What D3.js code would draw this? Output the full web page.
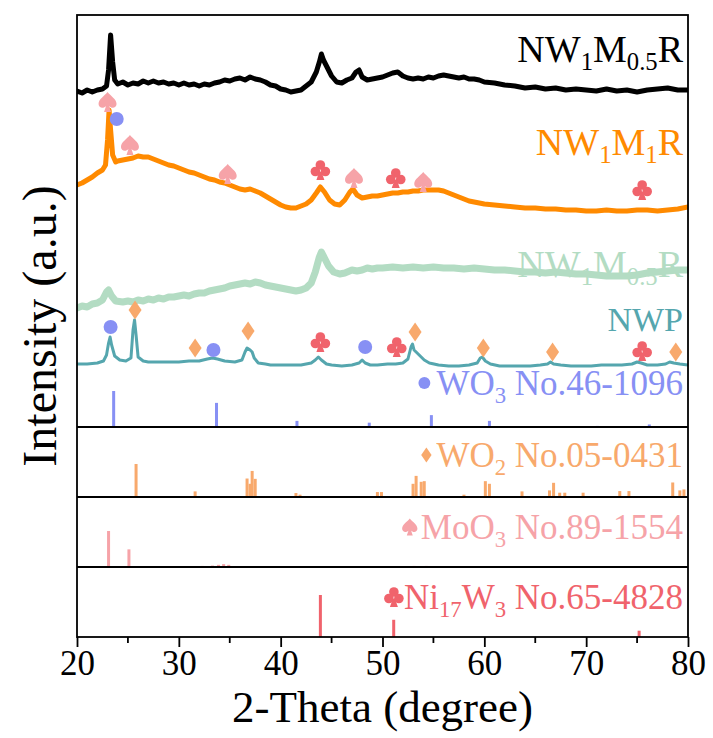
<!DOCTYPE html>
<html>
<head>
<meta charset="utf-8">
<script src="https://cdn.jsdelivr.net/npm/d3@7"></script>
<style>
  html, body { margin: 0; padding: 0; background: #fff; }
  svg { display: block; }
</style>
</head>
<body>
<svg id="chart" width="713" height="738"></svg>
<script>
// ---------- X axis ----------
const xTicks = [20, 30, 40, 50, 60, 70, 80];
const xMinorTicks = [25, 35, 45, 55, 65, 75];

// ---------- Measured patterns: [2-theta (deg), stacked intensity (a.u.)] ----------
const nw1m05rTop = [
  [20,336],[20.5,334],[21,337],[21.5,335],[22,337],[22.5,338],[22.9,341],[23.1,357],[23.3,392],[23.5,365],
  [23.7,347],[24,343],[24.5,345],[25,342],[25.5,344],[26,343],[26.5,346],[27,344],[27.5,346],[28,344],
  [28.5,345],[29,343],[29.5,344],[30,342],[30.5,344],[31,342],[31.5,343],[32,341],[32.5,343],[33,342],
  [33.5,344],[34,345],[34.5,347],[35,346],[35.5,348],[36,349],[36.5,347],[37,350],[37.5,348],[38,347],
  [38.5,345],[39,342],[39.5,341],[40,338],[40.5,337],[41,335],[41.5,336],[42,337],[42.5,341],[43,345],
  [43.5,355],[43.8,365],[44.0,373],[44.2,367],[44.5,361],[45,351],[45.5,345],[46,344],[46.5,347],[47,349],
  [47.4,355],[47.7,357],[48,350],[48.5,347],[49,348],[49.5,349],[50,350],[50.5,352],[51,354],[51.5,355],
  [52,351],[52.5,349],[53,348],[53.5,349],[54,348],[54.5,350],[55,349],[55.5,351],[56,352],[56.5,351],
  [57,350],[57.5,349],[58,350],[58.5,348],[59,348],[59.5,347],[60,345],[61,344],[62,342],[63,341],
  [64,339],[65,340],[66,338],[67,339],[68,337],[69,338],[70,337],[71,336],[72,338],[73,336],
  [74,337],[75,335],[76,337],[77,338],[78,339],[79,337],[80,337]
];
const nw1m1r = [
  [20,242],[20.5,244],[21,247],[21.5,250],[22,254],[22.5,257],[22.8,262],[23.0,287],[23.15,317],[23.3,297],
  [23.5,272],[23.8,265],[24,266],[24.5,267],[25,268],[25.5,269],[26,271],[26.5,270],[27,270],[27.5,268],
  [28,266],[28.5,264],[29,262],[29.5,261],[30,259],[30.5,257],[31,255],[31.5,254],[32,252],[32.5,250],
  [33,248],[33.5,247],[34,245],[34.5,244],[35,242],[35.5,240],[36,238],[36.5,237],[37,238],[37.5,236],
  [38,234],[38.5,231],[39,228],[39.5,225],[40,222],[40.5,220],[41,219],[41.5,219],[42,221],[42.5,223],
  [43,227],[43.5,234],[43.9,240],[44.3,235],[44.8,227],[45.3,223],[45.8,222],[46.3,227],[46.8,235],[47.1,238],
  [47.5,232],[48,229],[48.5,230],[49,231],[49.5,231],[50,232],[50.5,233],[51,234],[51.5,234],[52,235],
  [52.5,235],[53,236],[53.5,236],[54,237],[54.5,237],[55,237],[55.5,237],[56,236],[56.5,234],[57,232],
  [57.5,230],[58,228],[58.5,226],[59,225],[59.5,224],[60,223],[61,222],[62,221],[63,220],[64,219],
  [65,219],[66,218],[67,218],[68,217],[69,217],[70,216],[71,216],[72,217],[73,216],[74,216],
  [75,217],[76,217],[77,216],[78,217],[79,218],[80,220]
];
const nw1m05rLow = [
  [20,119],[20.5,121],[21,120],[21.5,123],[22,124],[22.5,127],[22.9,135],[23.1,137],[23.4,131],[23.8,126],
  [24.5,125],[25,126],[25.5,125],[26,127],[26.5,126],[27,128],[27.5,127],[28,129],[28.5,128],[29,130],
  [29.5,130],[30,131],[30.5,132],[31,131],[31.5,133],[32,134],[32.5,134],[33,136],[33.5,137],[34,138],
  [34.5,139],[35,141],[35.5,142],[36,143],[36.5,144],[37,143],[37.5,145],[38,144],[38.5,142],[39,141],
  [39.5,140],[40,139],[40.5,138],[41,137],[41.5,136],[42,137],[42.5,139],[43,144],[43.4,155],[43.8,170],
  [44.0,175],[44.3,169],[44.7,161],[45.2,155],[45.8,153],[46.3,154],[47,157],[47.5,156],[48,157],[48.5,159],
  [49,158],[49.5,159],[50,159],[51,160],[52,159],[53,160],[54,159],[55,160],[56,159],[57,159],
  [58,158],[59,159],[60,158],[61,157],[62,157],[63,156],[64,155],[65,155],[66,154],[67,155],
  [68,154],[69,153],[70,153],[71,152],[72,151],[73,151],[74,151],[75,152],[76,154],[77,155],
  [78,156],[79,157],[80,157]
];
const nwp = [
  [20,63],[21,63],[22,64],[22.6,66],[22.9,72],[23.1,84],[23.25,90],[23.4,82],[23.7,71],[24.2,67],
  [24.8,66],[25.3,69],[25.5,97],[25.65,107],[25.8,92],[26.0,70],[26.5,66],[27,65],[28,65],[29,65],
  [30,65],[31,66],[32,66],[32.8,68],[33.3,69],[33.8,68],[34.5,66],[35.5,65],[36.2,67],[36.5,75],
  [36.7,79],[37.0,77],[37.2,75],[37.4,69],[37.8,64],[38.5,63],[39,62],[40,62],[41,62],[42,62],
  [43,64],[43.4,67],[43.7,70],[44.0,67],[44.5,63],[45,62],[46,61],[47,62],[47.7,64],[48.0,67],
  [48.3,64],[48.8,62],[49.5,62],[50.5,63],[51.3,63],[52.0,64],[52.5,68],[52.8,80],[52.95,83],[53.1,77],
  [53.4,74],[53.7,71],[54.1,67],[54.6,64],[55.5,62],[56.5,61],[57.5,61],[58.5,62],[59.3,64],[59.6,69],
  [59.8,70],[60.1,66],[60.6,63],[61.5,61],[62.5,61],[63.5,61],[64.5,61],[65.5,62],[66.2,63],[66.5,65],
  [66.8,63],[67.5,62],[68.5,61],[69.5,61],[70.5,61],[71.5,62],[72.5,62],[73.5,62],[74.5,63],[75.0,65],
  [75.4,64],[76,62],[77,62],[77.8,63],[78.2,65],[78.6,64],[79.2,63],[80,62]
];

// ---------- Phase markers on the patterns: [2-theta, intensity level, phase] ----------
const nw1m1rMarks = [
  [23.0,325,"MoO3"],[23.9,308,"WO3"],[25.2,282,"MoO3"],[34.8,253,"MoO3"],[43.9,257,"Ni17W3"],
  [47.2,249,"MoO3"],[51.3,249,"Ni17W3"],[54.0,245,"MoO3"],[75.5,237,"Ni17W3"]
];
const nwpMarks = [
  [23.3,100,"WO3"],[25.7,117,"WO2"],[31.6,79,"WO2"],[33.4,77,"WO3"],[36.8,96,"WO2"],
  [43.9,85,"Ni17W3"],[48.3,80,"WO3"],[51.4,80,"Ni17W3"],[53.2,95,"WO2"],[59.9,79,"WO2"],
  [66.7,75,"WO2"],[75.5,76,"Ni17W3"],[78.8,75,"WO2"]
];

// ---------- Standard reference cards: [2-theta, relative intensity %] ----------
const wo3Card = [[23.6,100],[33.7,67],[41.6,17],[48.7,12],[54.8,33],[60.5,17],[71.1,3],[76.2,7]];
const wo2Card = [
  [25.8,100],[31.6,17],[36.7,56],[37.0,40],[37.2,79],[37.5,55],[41.5,12],[41.9,7],[49.5,15],[49.9,15],
  [53.0,40],[53.3,64],[53.8,46],[54.1,48],[58.0,7],[60.1,48],[60.5,40],[63.7,17],[66.4,20],[66.8,43],
  [67.4,13],[67.9,13],[69.7,13],[73.3,18],[74.2,18],[78.5,44],[79.2,20],[79.6,23]
];
const moo3Card = [
  [23.1,100],[25.1,49],[32.3,3],[33.3,4],[33.9,6],[34.4,8],[34.9,6],[42.3,2],[47.2,2],[49.5,2],
  [51.1,2],[53.1,3],[54.3,3],[56.2,2],[58.9,2],[62.8,2]
];
const ni17w3Card = [[43.9,100],[51.1,41],[75.2,15]];

// ---------- Styling ----------
const serif = "'Liberation Serif', 'Times New Roman', serif";
const phaseColor = { WO3: "#8790f4", WO2: "#f8a96c", MoO3: "#f6a3a8", Ni17W3: "#f0636c" };
const curveStyles = [
  { data: nw1m05rTop, color: "#000000", width: 5 },
  { data: nw1m1r,     color: "#ff8a00", width: 5 },
  { data: nw1m05rLow, color: "#b3dcc3", width: 7 },
  { data: nwp,        color: "#55a6ae", width: 3 }
];

const svg = d3.select("#chart");
const frame = { left: 77, right: 688, top: 15, bottom: 637 };
const mainBottom = 427;
const panelBases = [427, 497, 567, 637];

const x = d3.scaleLinear().domain([20, 80]).range([frame.left, frame.right]);
const y = d3.scaleLinear().domain([0, 412]).range([mainBottom, frame.top]);

svg.append("defs").append("clipPath").attr("id", "plotClip")
  .append("rect").attr("x", frame.left).attr("y", frame.top)
  .attr("width", frame.right - frame.left).attr("height", mainBottom - frame.top);

// ---------- Patterns ----------
const line = d3.line().x(d => x(d[0])).y(d => y(d[1])).curve(d3.curveLinear);
const curvesG = svg.append("g").attr("clip-path", "url(#plotClip)");
curveStyles.forEach(s => {
  curvesG.append("path").datum(s.data)
    .attr("d", line).attr("fill", "none")
    .attr("stroke", s.color).attr("stroke-width", s.width)
    .attr("stroke-linejoin", "round").attr("stroke-linecap", "round");
});

// ---------- Marker shapes ----------
function drawMarker(g, phase, cx, cy, k) {
  const col = phaseColor[phase];
  const m = g.append("g").attr("transform", `translate(${cx},${cy}) scale(${k})`);
  if (phase === "WO3") {
    m.append("circle").attr("r", 7).attr("fill", col);
  } else if (phase === "WO2") {
    m.append("path").attr("d", "M0,-9.5 L6.5,0 L0,9.5 L-6.5,0 Z").attr("fill", col);
  } else if (phase === "MoO3") {
    m.append("path").attr("d",
      "M0,-10 C3,-6 9,-3 9,2 C9,6 4,7 1.5,4 L3.5,10 L-3.5,10 L-1.5,4 C-4,7 -9,6 -9,2 C-9,-3 -3,-6 0,-10 Z")
      .attr("fill", col);
  } else {
    [[0, -5], [-5, 1.5], [5, 1.5]].forEach(c =>
      m.append("circle").attr("cx", c[0]).attr("cy", c[1]).attr("r", 4.8).attr("fill", col));
    m.append("path").attr("d", "M-1.2,2 L-4,10 L4,10 L1.2,2 Z").attr("fill", col);
  }
}
const marksG = svg.append("g");
nw1m1rMarks.concat(nwpMarks).forEach(d => drawMarker(marksG, d[2], x(d[0]), y(d[1]), 1));

// ---------- Reference card sticks (each card scaled to its own strip) ----------
const cards = [
  { data: wo3Card, phase: "WO3", full: 36 },
  { data: wo2Card, phase: "WO2", full: 33 },
  { data: moo3Card, phase: "MoO3", full: 36 },
  { data: ni17w3Card, phase: "Ni17W3", full: 42 }
];
cards.forEach((c, i) => {
  const base = panelBases[i];
  const h = d3.scaleLinear().domain([0, 100]).range([0, c.full]);
  svg.append("g").selectAll("rect").data(c.data).join("rect")
    .attr("x", d => x(d[0]) - 1.5).attr("width", 3)
    .attr("y", d => base - h(d[1])).attr("height", d => h(d[1]))
    .attr("fill", phaseColor[c.phase]);
});

// ---------- Labels with subscripts ----------
function richLabel(parts, xr, yb, size, color) {
  const t = svg.append("text").attr("x", xr).attr("y", yb)
    .attr("text-anchor", "end").attr("font-family", serif)
    .attr("font-size", size).attr("fill", color);
  let shifted = false;
  parts.forEach(p => {
    const sub = typeof p !== "string";
    const txt = sub ? p.sub : p;
    const ts = t.append("tspan").text(txt);
    if (sub) {
      ts.attr("font-size", size * 0.65);
      if (!shifted) { ts.attr("dy", size * 0.22); shifted = true; }
    } else if (shifted) {
      ts.attr("dy", -size * 0.22); shifted = false;
    }
  });
  return t;
}

const sampleLabels = [
  { parts: ["NW", { sub: "1" }, "M", { sub: "0.5" }, "R"], y: 62, color: "#000000", size: 38 },
  { parts: ["NW", { sub: "1" }, "M", { sub: "1" }, "R"], y: 155, color: "#ff8a00", size: 38 },
  { parts: ["NW", { sub: "1" }, "M", { sub: "0.5" }, "R"], y: 277, color: "#b3dcc3", size: 38 },
  { parts: ["NWP"], y: 331, color: "#55a6ae", size: 34 }
];
sampleLabels.forEach(l => richLabel(l.parts, 683, l.y, l.size, l.color));

const cardLabels = [
  { parts: ["WO", { sub: "3" }, " No.46-1096"], phase: "WO3", y: 395, k: 0.85, gap: 12 },
  { parts: ["WO", { sub: "2" }, " No.05-0431"], phase: "WO2", y: 467, k: 0.8, gap: 10 },
  { parts: ["MoO", { sub: "3" }, " No.89-1554"], phase: "MoO3", y: 539, k: 0.85, gap: 11 },
  { parts: ["Ni", { sub: "17" }, "W", { sub: "3" }, " No.65-4828"], phase: "Ni17W3", y: 609, k: 1.0, gap: 10 }
];
cardLabels.forEach(l => {
  const t = richLabel(l.parts, 683, l.y, 35, phaseColor[l.phase]);
  const bb = t.node().getBBox();
  drawMarker(svg, l.phase, bb.x - l.gap, l.y - 12, l.k);
});

// ---------- Frame and panel separators ----------
svg.append("rect").attr("x", frame.left).attr("y", frame.top)
  .attr("width", frame.right - frame.left).attr("height", frame.bottom - frame.top)
  .attr("fill", "none").attr("stroke", "#000").attr("stroke-width", 1.8);
svg.append("g").selectAll("line").data(panelBases.slice(0, 3)).join("line")
  .attr("x1", frame.left).attr("x2", frame.right)
  .attr("y1", d => d).attr("y2", d => d)
  .attr("stroke", "#000").attr("stroke-width", 2);

// ---------- X axis ----------
const axisG = svg.append("g").attr("transform", `translate(0,${frame.bottom})`)
  .call(d3.axisBottom(x).tickValues(xTicks).tickSize(10).tickPadding(3).tickFormat(d3.format("d")));
axisG.select(".domain").remove();
axisG.selectAll(".tick line").attr("stroke", "#000").attr("stroke-width", 1.8);
axisG.selectAll(".tick text").attr("font-family", serif).attr("font-size", 35).attr("fill", "#000");
axisG.selectAll(".minor").data(xMinorTicks).join("line").attr("class", "minor")
  .attr("x1", d => x(d)).attr("x2", d => x(d)).attr("y1", 0).attr("y2", 6)
  .attr("stroke", "#000").attr("stroke-width", 1.8);

svg.append("text").attr("x", (frame.left + frame.right) / 2).attr("y", 722)
  .attr("text-anchor", "middle").attr("font-family", serif).attr("font-size", 45)
  .attr("fill", "#000").text("2-Theta (degree)");

svg.append("text").attr("transform", `translate(56,${326}) rotate(-90)`)
  .attr("text-anchor", "middle").attr("font-family", serif).attr("font-size", 48)
  .attr("fill", "#000").text("Intensity (a.u.)");
</script>
</body>
</html>
